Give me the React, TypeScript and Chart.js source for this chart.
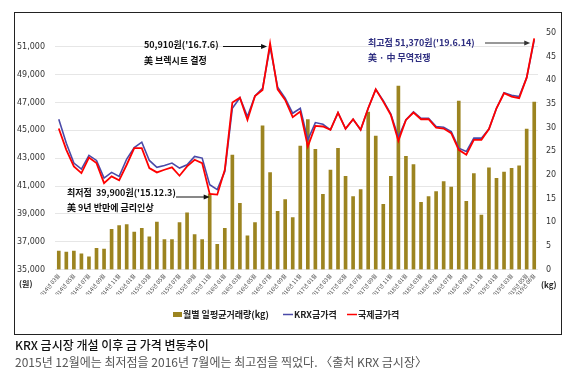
import React, { useEffect, useRef } from "react";
import { Chart, registerables } from "chart.js";

Chart.register(...registerables);

const months: string[] = [
  "2014년 03월", "2014년 04월", "2014년 05월", "2014년 06월", "2014년 07월", "2014년 08월", "2014년 09월", "2014년 10월", "2014년 11월", "2014년 12월",
  "2015년 01월", "2015년 02월", "2015년 03월", "2015년 04월", "2015년 05월", "2015년 06월", "2015년 07월", "2015년 08월", "2015년 09월", "2015년 10월", "2015년 11월", "2015년 12월",
  "2016년 01월", "2016년 02월", "2016년 03월", "2016년 04월", "2016년 05월", "2016년 06월", "2016년 07월", "2016년 08월", "2016년 09월", "2016년 10월", "2016년 11월", "2016년 12월",
  "2017년 01월", "2017년 02월", "2017년 03월", "2017년 04월", "2017년 05월", "2017년 06월", "2017년 07월", "2017년 08월", "2017년 09월", "2017년 10월", "2017년 11월", "2017년 12월",
  "2018년 01월", "2018년 02월", "2018년 03월", "2018년 04월", "2018년 05월", "2018년 06월", "2018년 07월", "2018년 08월", "2018년 09월", "2018년 10월", "2018년 11월", "2018년 12월",
  "2019년 01월", "2019년 02월", "2019년 03월", "2019년 04월", "2019년 05월", "2019년 06월",
];

const shownTickLabels: string[] = [
  "2014년 03월", "2014년 05월", "2014년 07월", "2014년 09월", "2014년 11월",
  "2015년 01월", "2015년 03월", "2015년 05월", "2015년 07월", "2015년 09월", "2015년 11월",
  "2016년 01월", "2016년 03월", "2016년 05월", "2016년 07월", "2016년 09월", "2016년 11월",
  "2017년 01월", "2017년 03월", "2017년 05월", "2017년 07월", "2017년 09월", "2017년 11월",
  "2018년 01월", "2018년 03월", "2018년 05월", "2018년 07월", "2018년 09월", "2018년 11월",
  "2019년 01월", "2019년 03월", "2019년 05월", "2019년 06월",
];

const volumeKg: number[] = [
  3.9, 3.7, 3.9, 3.3, 2.7, 4.5, 4.3, 8.5, 9.3, 9.5,
  7.9, 8.7, 6.9, 10.0, 6.3, 6.3, 9.9, 12.0, 7.4, 6.3, 16.0, 5.3,
  8.7, 24.2, 14.0, 7.1, 9.9, 30.4, 20.5, 12.3, 14.8, 11.0, 26.1, 31.7,
  25.4, 15.9, 21.0, 25.6, 19.7, 15.4, 16.9, 33.3, 28.2, 13.8, 19.7, 38.8,
  23.9, 22.2, 14.2, 15.4, 16.5, 18.6, 17.4, 35.6, 14.4, 20.3, 11.5, 21.5,
  19.3, 20.6, 21.4, 21.9, 29.7, 35.4,
];

const krxPrice: number[] = [
  45800, 44080, 42650, 42220, 43200, 42840, 41570, 41980, 41690, 42940,
  43770, 44150, 42840, 42340, 42480, 42650, 42290, 42530, 43130, 43010, 41100, 40740,
  42050, 46590, 47350, 45990, 47470, 48020, 51010, 48100, 47310, 46230, 46590, 44320,
  45560, 45440, 45040, 46280, 45110, 45800, 45040, 46590, 47950, 47140, 46180, 44510,
  45750, 46330, 45870, 45870, 45280, 45230, 44920, 43720, 43480, 44440, 44440, 45090,
  46590, 47710, 47520, 47430, 48790, 51490,
];

const intlPrice: number[] = [
  45130, 43600, 42410, 41930, 43050, 42650, 41210, 41690, 41410, 42530,
  43720, 43720, 42290, 41980, 42170, 42340, 41740, 42410, 42890, 42650, 40430, 40380,
  42170, 47000, 47350, 45750, 47470, 47900, 51250, 47950, 47190, 45950, 46350, 43840,
  45320, 45280, 45040, 46280, 45110, 45800, 45040, 46590, 47950, 47070, 46110, 44250,
  45750, 46280, 45800, 45800, 45200, 45130, 44800, 43600, 43250, 44320, 44320, 45090,
  46590, 47670, 47430, 47310, 48790, 51610,
];

const priceTicks: number[] = [35000, 37000, 39000, 41000, 43000, 45000, 47000, 49000, 51000];

const FONT = '"Noto Sans CJK KR", "Noto Sans", sans-serif';
const NUMFONT = '"DejaVu Sans", sans-serif';
const BAR_COLOR = "#9C8420";
const BLUE = "#4A4AA8";
const RED = "#FF0000";

function drawArrow(ctx: CanvasRenderingContext2D, x1: number, y: number, x2: number, color: string) {
  ctx.save();
  ctx.strokeStyle = color;
  ctx.fillStyle = color;
  ctx.lineWidth = 1;
  ctx.beginPath();
  ctx.moveTo(x1, y);
  ctx.lineTo(x2 - 5, y);
  ctx.stroke();
  ctx.beginPath();
  ctx.moveTo(x2, y);
  ctx.lineTo(x2 - 6, y - 2.5);
  ctx.lineTo(x2 - 6, y + 2.5);
  ctx.closePath();
  ctx.fill();
  ctx.restore();
}

const notesPlugin = {
  id: "notes",
  afterDraw(chart: any) {
    const ctx: CanvasRenderingContext2D = chart.ctx;
    const xs = chart.scales.x;
    ctx.save();
    ctx.textBaseline = "middle";
    ctx.textAlign = "left";

    // Peak 2016
    ctx.fillStyle = "#111";
    ctx.font = `bold 9px ${FONT}`;
    ctx.fillText("50,910원('16.7.6)", 144, 45);
    ctx.fillText("美 브렉시트 결정", 144, 61);
    drawArrow(ctx, 223, 46.5, xs.getPixelForValue(28) - 3, "#111");

    // Low 2015
    ctx.fillStyle = "#111";
    ctx.fillText("최저점  39,900원('15.12.3)", 67, 193);
    ctx.fillText("美 9년 반만에 금리인상", 67, 208);
    drawArrow(ctx, 176, 197, xs.getPixelForValue(20), "#111");

    // High 2019
    ctx.fillStyle = "#2E2E80";
    ctx.fillText("최고점 51,370원('19.6.14)", 368, 43);
    ctx.fillText("美 · 中 무역전쟁", 368, 58);
    drawArrow(ctx, 485, 43, xs.getPixelForValue(63) - 4, "#333");

    // units
    ctx.fillStyle = "#222";
    ctx.font = `bold 8px ${FONT}`;
    ctx.fillText("(원)", 19, 284);
    ctx.fillText("(kg)", 541, 285);

    // legend
    const ly = 314.5;
    ctx.fillStyle = BAR_COLOR;
    ctx.fillRect(173, ly - 2.5, 9, 5);
    ctx.fillStyle = "#222";
    ctx.font = `bold 9px ${FONT}`;
    ctx.fillText("월별 일평균거래량(kg)", 183, ly);
    ctx.strokeStyle = BLUE;
    ctx.lineWidth = 1.5;
    ctx.beginPath();
    ctx.moveTo(283, ly);
    ctx.lineTo(293, ly);
    ctx.stroke();
    ctx.fillText("KRX금가격", 294, ly);
    ctx.strokeStyle = RED;
    ctx.beginPath();
    ctx.moveTo(347, ly);
    ctx.lineTo(357, ly);
    ctx.stroke();
    ctx.fillText("국제금가격", 358, ly);
    ctx.restore();
  },
};

export default function App() {
  const canvasRef = useRef<HTMLCanvasElement | null>(null);

  useEffect(() => {
    const canvas = canvasRef.current;
    if (!canvas) return;
    const chart = new Chart(canvas, {
      type: "bar",
      data: {
        labels: months,
        datasets: [
          {
            type: "bar",
            label: "월별 일평균거래량(kg)",
            data: volumeKg,
            backgroundColor: BAR_COLOR,
            barThickness: 3,
            yAxisID: "y1",
            order: 3,
          } as any,
          {
            type: "line",
            label: "KRX금가격",
            data: krxPrice,
            borderColor: BLUE,
            borderWidth: 1.6,
            pointRadius: 0,
            tension: 0,
            yAxisID: "y",
            order: 2,
          } as any,
          {
            type: "line",
            label: "국제금가격",
            data: intlPrice,
            borderColor: RED,
            borderWidth: 1.8,
            pointRadius: 0,
            tension: 0,
            yAxisID: "y",
            order: 1,
          } as any,
        ],
      },
      options: {
        responsive: false,
        animation: false,
        devicePixelRatio: 1,
        layout: { padding: { left: 0, right: 0, top: 33, bottom: 81.5 } },
        plugins: {
          legend: { display: false },
          tooltip: { enabled: false },
        },
        scales: {
          x: {
            grid: { display: false, drawTicks: false },
            border: { display: false },
            ticks: {
              autoSkip: false,
              minRotation: 50,
              maxRotation: 50,
              padding: 3,
              color: "#444",
              font: { size: 5.6, family: FONT },
              callback: (_v: any, i: number) => (shownTickLabels.includes(months[i]) ? months[i] : ""),
            },
            afterFit: (s: any) => {
              s.height = 25;
            },
          },
          y: {
            position: "left",
            min: 35000,
            max: 52000,
            afterBuildTicks: (axis: any) => {
              axis.ticks = priceTicks.map((v) => ({ value: v }));
            },
            grid: { color: "#E6E6E6", lineWidth: 1, drawTicks: false },
            border: { display: false },
            ticks: {
              padding: 10,
              color: "#333",
              font: { size: 8, family: NUMFONT },
              callback: (v: any) => Number(v).toLocaleString("en-US"),
            },
            afterFit: (s: any) => {
              s.width = 55;
            },
          },
          y1: {
            position: "right",
            min: 0,
            max: 50,
            grid: { display: false, drawTicks: false },
            border: { display: false },
            ticks: {
              stepSize: 5,
              padding: 8,
              color: "#333",
              font: { size: 8, family: NUMFONT },
            },
            afterFit: (s: any) => {
              s.width = 39;
            },
          },
        },
      } as any,
      plugins: [notesPlugin],
    });
    return () => chart.destroy();
  }, []);

  return (
    <div style={{ position: "fixed", left: 0, top: 0, width: 577, height: 376, background: "#fff", overflow: "hidden" }}>
      <div
        style={{
          position: "absolute",
          left: 14,
          top: 12,
          width: 548,
          height: 323,
          border: "1px solid #222",
          boxSizing: "border-box",
        }}
      />
      <canvas ref={canvasRef} width={577} height={376} style={{ position: "absolute", left: 0, top: 0, width: 577, height: 376 }} />
      <div
        style={{
          position: "absolute",
          left: 15,
          top: 337,
          fontFamily: FONT,
          fontSize: 12,
          fontWeight: 500,
          lineHeight: "15px",
          color: "#111",
          whiteSpace: "nowrap",
        }}
      >
        KRX 금시장 개설 이후 금 가격 변동추이
      </div>
      <div
        style={{
          position: "absolute",
          left: 15,
          top: 354,
          fontFamily: FONT,
          fontSize: 12,
          lineHeight: "15px",
          color: "#555",
          whiteSpace: "nowrap",
        }}
      >
        2015년 12월에는 최저점을 2016년 7월에는 최고점을 찍었다. 〈출처 KRX 금시장〉
      </div>
    </div>
  );
}
